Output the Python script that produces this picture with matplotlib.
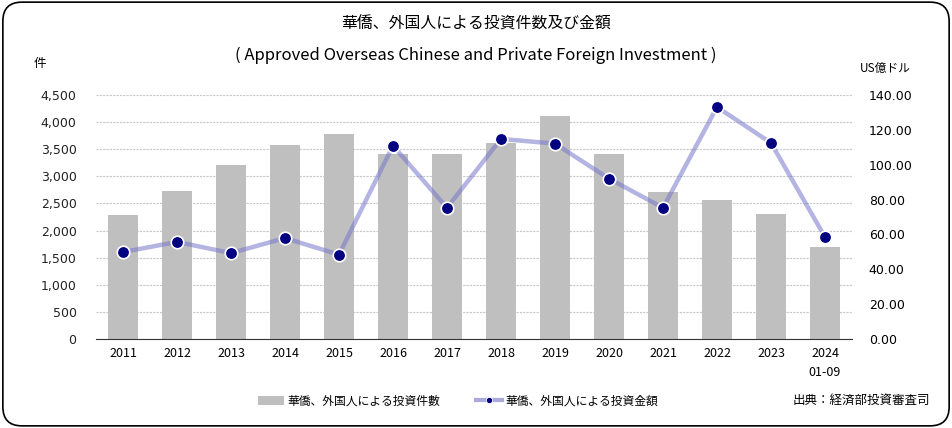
import matplotlib.pyplot as plt
import numpy as np
from matplotlib.patches import FancyBboxPatch
from matplotlib.lines import Line2D
from matplotlib.ticker import FuncFormatter

plt.rcParams['font.family'] = ['Noto Sans CJK JP', 'DejaVu Sans']

years = ['2011', '2012', '2013', '2014', '2015', '2016', '2017', '2018',
         '2019', '2020', '2021', '2022', '2023', '2024\n01-09']
counts = [2287, 2730, 3209, 3578, 3781, 3412, 3412, 3620,
          4113, 3412, 2711, 2564, 2305, 1697]
amounts = [49.9, 55.7, 49.3, 57.9, 48.4, 110.9, 75.3, 114.8,
           112.1, 92.0, 75.3, 133.1, 112.5, 58.5]

fig = plt.figure(figsize=(9.52, 4.28), dpi=100)
# rounded border
border = FancyBboxPatch((0.003, 0.005), 0.994, 0.99, boxstyle='round,pad=0,rounding_size=0.02',
                        transform=fig.transFigure, fill=False, edgecolor='black', linewidth=1.2,
                        mutation_aspect=952 / 428)
fig.patches.append(border)

ax = fig.add_axes([96 / 952, (428 - 339) / 428, (852 - 96) / 952, 244 / 428])
x = np.arange(len(years))
bars = ax.bar(x, counts, width=0.57, color='#bfbfbf', zorder=2,
              label='華僑、外国人による投資件數')
ax.set_xlim(-0.5, len(years) - 0.5)
ax.set_ylim(0, 4500)
ax.set_yticks(np.arange(0, 4501, 500))
ax.yaxis.set_major_formatter(FuncFormatter(lambda v, p: f'{int(v):,}'))
ax.set_xticks(x)
ax.set_xticklabels(years, fontsize=9, linespacing=1.6)
ax.grid(axis='y', color='#c8c8c8', linestyle=(0, (2, 1)), linewidth=0.8, zorder=0)
for s in ['top', 'right', 'left']:
    ax.spines[s].set_visible(False)
ax.spines['bottom'].set_color('#333333')
ax.tick_params(axis='y', length=0, pad=14, labelsize=9, labelfontfamily='DejaVu Sans')
ax.tick_params(axis='x', length=0, pad=6)
for lbl in ax.get_yticklabels():
    lbl.set_color('#222222')

ax2 = ax.twinx()
ax2.plot(x, amounts, color='#7777cc', alpha=0.55, linewidth=3.2, zorder=3,
         solid_capstyle='round')
ax2.plot(x, amounts, linestyle='none', marker='o', markersize=9,
         markerfacecolor='#000080', markeredgecolor='white', markeredgewidth=1.2, zorder=4)
ax2.set_ylim(0, 140)
ax2.set_yticks(np.arange(0, 141, 20))
ax2.yaxis.set_major_formatter(FuncFormatter(lambda v, p: f'{v:.2f}'))
for s in ['top', 'right', 'left', 'bottom']:
    ax2.spines[s].set_visible(False)
ax2.tick_params(axis='y', length=0, pad=12, labelsize=9, labelfontfamily='DejaVu Sans')

fig.text(0.5, 1 - 24 / 428, '華僑、外国人による投資件数及び金額', ha='center', va='center', fontsize=11.4)
fig.text(0.5, 1 - 55 / 428, '( Approved Overseas Chinese and Private Foreign Investment )',
         ha='center', va='center', fontsize=12)
fig.text(40 / 952, 1 - 63 / 428, '件', ha='center', va='center', fontsize=9)
fig.text(885 / 952, 1 - 68 / 428, 'US億ドル', ha='center', va='center', fontsize=8.5)
fig.text(930 / 952, 1 - 400 / 428, '出典：経済部投資審査司', ha='right', va='center', fontsize=9)

leg_line = Line2D([], [], color='#a9a9dd', linewidth=3, marker='o', markersize=4.5,
                  markerfacecolor='#000080', markeredgecolor='white', markeredgewidth=0.6)
fig.legend(handles=[bars, leg_line], labels=['華僑、外国人による投資件數', '華僑、外国人による投資金額'],
           loc='center', bbox_to_anchor=(458 / 952, 1 - 401 / 428),
           ncol=2, frameon=False, fontsize=8.5, columnspacing=3, handlelength=2.2,
           handletextpad=0.3)

fig.savefig('out.png', dpi=100)
